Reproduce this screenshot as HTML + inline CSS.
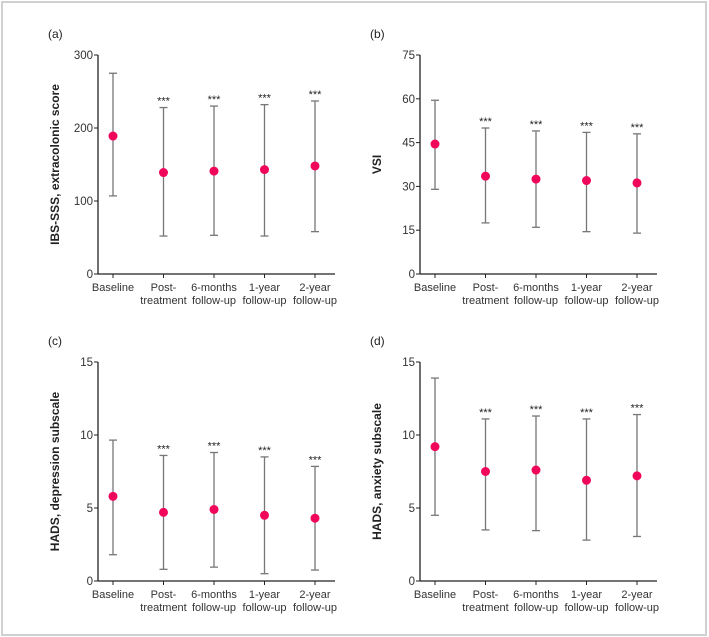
<!DOCTYPE html>
<html><head><meta charset="utf-8"><style>
body{margin:0;background:#fff;}
svg{display:block;font-family:"Liberation Sans",sans-serif;}
</style></head><body>
<svg id="fig" width="709" height="637">
<rect x="2" y="2" width="704" height="633" fill="#fff" stroke="#d0d0d0" stroke-width="2"/>
</svg>
<script>
const categories=["Baseline","Post-|treatment","6-months|follow-up","1-year|follow-up","2-year|follow-up"];
const aMean=[189,139,141,143,148];const aHigh=[275,228,230,232,237];const aLow=[107,52,53,52,58];
const bMean=[44.5,33.5,32.5,32,31.2];const bHigh=[59.5,50,49,48.5,48];const bLow=[29,17.5,16,14.5,14];
const cMean=[5.8,4.7,4.9,4.5,4.3];const cHigh=[9.65,8.6,8.8,8.5,7.85];const cLow=[1.8,0.8,0.95,0.5,0.75];
const dMean=[9.2,7.5,7.6,6.9,7.2];const dHigh=[13.9,11.1,11.3,11.1,11.4];const dLow=[4.5,3.5,3.45,2.8,3.05];
const aTicks=[0,100,200,300];const bTicks=[0,15,30,45,60,75];const cTicks=[0,5,10,15];const dTicks=[0,5,10,15];
const stars=[false,true,true,true,true];
const svg=document.getElementById('fig');const NS='http://www.w3.org/2000/svg';
function mk(t,a,p){const e=document.createElementNS(NS,t);for(const k in a)e.setAttribute(k,a[k]);p.appendChild(e);return e;}
function panel(id,ox,oy,ymax,ticks,mean,hi,lo,title){
 const g=mk('g',{},svg);
 
 
 const ax=98+ox,y0=274+oy,ytop=55+oy,xend=335+ox;
 const ys=v=>y0-(v/ymax)*(y0-ytop);
 const xs=i=>113+ox+i*50.5;
 const lab=mk('text',{x:48+ox,y:38+oy,'font-size':12,fill:'#222'},g);lab.textContent='('+id+')';
 
 
 const yl=mk('line',{x1:ax,y1:ytop,x2:ax,y2:y0,stroke:'#222','stroke-width':1.3},g);
 
 
 const xl=mk('line',{x1:ax,y1:y0,x2:xend,y2:y0,stroke:'#222','stroke-width':1.3},g);
 
 
 ticks.forEach(t=>{const y=ys(t);mk('line',{x1:ax-4,y1:y,x2:ax,y2:y,stroke:'#222'},g);
  const tx=mk('text',{x:ax-5,y:y+4,'font-size':11.5,'text-anchor':'end',fill:'#333'},g);tx.textContent=t;
  
  });
 const tt=mk('text',{x:0,y:0,'font-size':12,'font-weight':'bold','text-anchor':'middle',fill:'#222',transform:`translate(${59+ox},${(y0+ytop)/2}) rotate(-90)`},g);tt.textContent=title;
 
 
 categories.forEach((c,i)=>{const x=xs(i);mk('line',{x1:x,y1:y0,x2:x,y2:y0+4,stroke:'#222'},g);
  c.split('|').forEach((ln,j)=>{const t=mk('text',{x:x,y:y0+17+j*13,'font-size':11,'text-anchor':'middle',fill:'#333'},g);t.textContent=ln;
   
   });
  const eb=mk('g',{stroke:'#777','stroke-width':1.3},g);
  
  
  mk('line',{x1:x,y1:ys(hi[i]),x2:x,y2:ys(lo[i])},eb);
  mk('line',{x1:x-4,y1:ys(hi[i]),x2:x+4,y2:ys(hi[i])},eb);
  mk('line',{x1:x-4,y1:ys(lo[i]),x2:x+4,y2:ys(lo[i])},eb);
  const pt=mk('circle',{cx:x,cy:ys(mean[i]),r:4.5,fill:'#f0065a'},g);
  
  
  if(stars[i]){const s=mk('text',{x:x,y:ys(hi[i])-3,'font-size':11,'text-anchor':'middle',fill:'#222'},g);s.textContent='***';
   
   }
 });
}
panel('a',0,0,300,aTicks,aMean,aHigh,aLow,'IBS-SSS, extracolonic score');
panel('b',322,0,75,bTicks,bMean,bHigh,bLow,'VSI');
panel('c',0,307,15,cTicks,cMean,cHigh,cLow,'HADS, depression subscale');
panel('d',322,307,15,dTicks,dMean,dHigh,dLow,'HADS, anxiety subscale');
</script>
</body></html>
